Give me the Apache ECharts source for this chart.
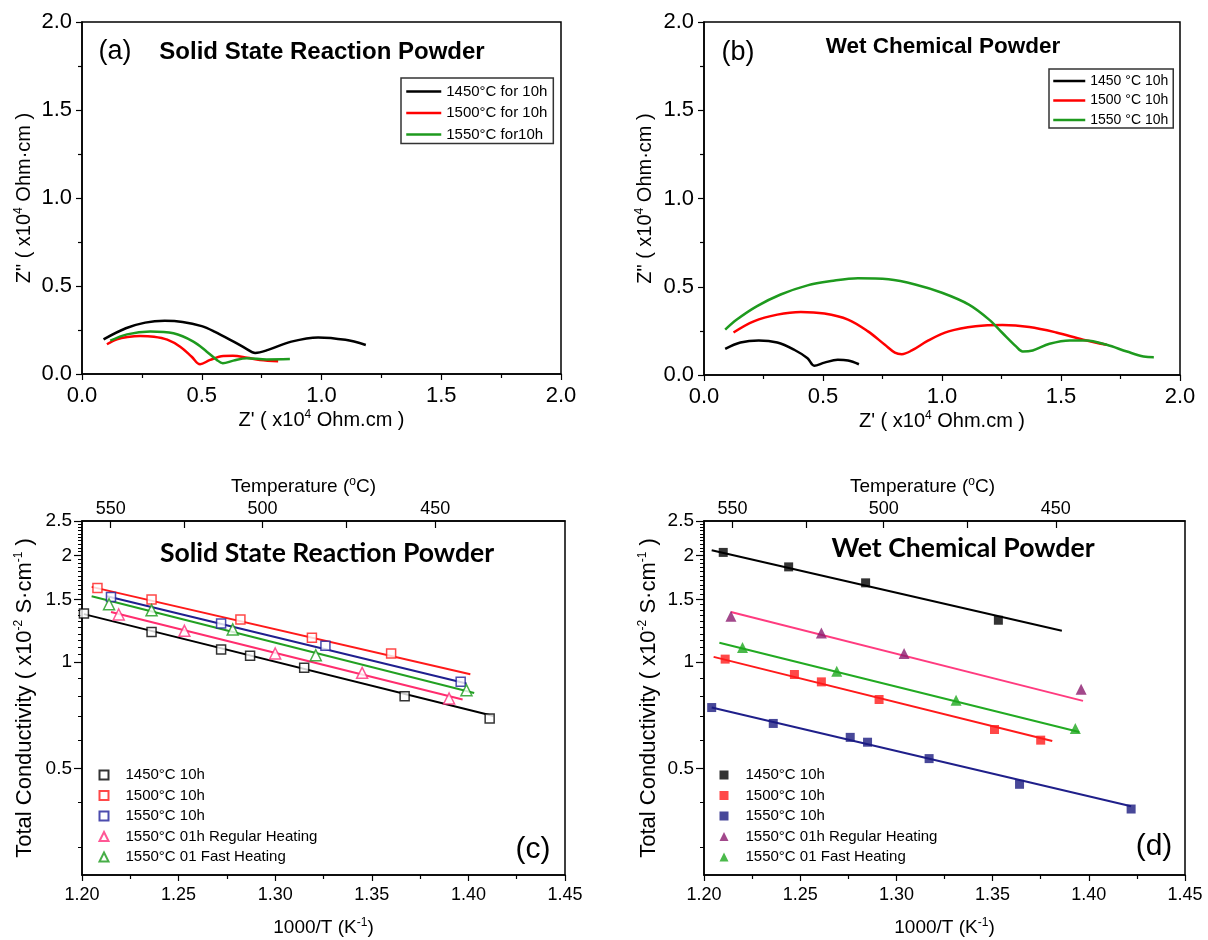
<!DOCTYPE html>
<html>
<head>
<meta charset="utf-8">
<script src="https://cdn.jsdelivr.net/npm/echarts@6/dist/echarts.min.js"></script>
<style>html,body{margin:0;padding:0;background:#fff}#main{width:1208px;height:940px}</style>
</head>
<body>
<div id="main"></div>
<script>
// (a) Nyquist plots, solid state reaction powder  [Z', Z''] in 1e4 Ohm.cm
const zA1450 = [[0.090,0.197],[0.183,0.260],[0.264,0.292],[0.345,0.302],[0.420,0.296],[0.500,0.272],[0.553,0.241],[0.633,0.184],[0.683,0.146],[0.723,0.120],[0.777,0.137],[0.874,0.184],[0.986,0.208],[1.100,0.194],[1.185,0.165]];
const zA1500 = [[0.104,0.169],[0.146,0.197],[0.190,0.210],[0.243,0.216],[0.300,0.212],[0.356,0.195],[0.410,0.155],[0.458,0.098],[0.493,0.055],[0.535,0.080],[0.590,0.102],[0.630,0.103],[0.690,0.092],[0.743,0.080],[0.819,0.072]];
const zA1550 = [[0.118,0.189],[0.188,0.225],[0.285,0.241],[0.382,0.231],[0.465,0.184],[0.521,0.127],[0.563,0.080],[0.588,0.061],[0.632,0.076],[0.688,0.089],[0.771,0.083],[0.868,0.085]];
// (b) Nyquist plots, wet chemical powder
const zB1450 = [[0.089,0.148],[0.153,0.184],[0.230,0.196],[0.308,0.184],[0.379,0.143],[0.435,0.095],[0.463,0.053],[0.506,0.070],[0.562,0.086],[0.605,0.082],[0.651,0.061]];
const zB1500 = [[0.124,0.241],[0.209,0.304],[0.308,0.342],[0.407,0.357],[0.506,0.348],[0.605,0.314],[0.689,0.247],[0.760,0.171],[0.802,0.127],[0.831,0.118],[0.873,0.139],[0.943,0.196],[1.028,0.247],[1.141,0.276],[1.254,0.283],[1.367,0.272],[1.480,0.241],[1.593,0.200],[1.692,0.171]];
const zB1550 = [[0.089,0.257],[0.138,0.314],[0.223,0.390],[0.322,0.456],[0.435,0.508],[0.534,0.532],[0.647,0.548],[0.775,0.542],[0.887,0.513],[1.000,0.466],[1.113,0.399],[1.198,0.314],[1.254,0.238],[1.311,0.162],[1.339,0.133],[1.381,0.139],[1.452,0.177],[1.537,0.196],[1.607,0.196],[1.692,0.171],[1.777,0.133],[1.847,0.105],[1.890,0.101]];

// (c) conductivity, solid state  [1000/T, sigma x1e-2]
const c1450 = [[1.201,1.370],[1.236,1.215],[1.272,1.084],[1.287,1.040],[1.315,0.962],[1.367,0.800],[1.411,0.692]];
const c1500 = [[1.208,1.618],[1.236,1.500],[1.282,1.317],[1.319,1.169],[1.360,1.056]];
const c1550 = [[1.215,1.526],[1.272,1.284],[1.326,1.110],[1.396,0.878]];
const cReg = [[1.219,1.361],[1.253,1.224],[1.300,1.056],[1.345,0.931],[1.390,0.788]];
const cFast = [[1.214,1.455],[1.236,1.400],[1.278,1.235],[1.321,1.044],[1.399,0.832]];
const fitC1450 = [[1.201,1.364],[1.413,0.703]];
const fitC1500 = [[1.205,1.629],[1.401,0.923]];
const fitC1550 = [[1.213,1.533],[1.399,0.869]];
const fitCReg = [[1.215,1.384],[1.397,0.783]];
const fitCFast = [[1.205,1.533],[1.403,0.817]];

// (d) conductivity, wet chemical
const d1450 = [[1.210,2.038],[1.244,1.855],[1.284,1.672],[1.353,1.311]];
const d1500 = [[1.211,1.018],[1.247,0.921],[1.261,0.878],[1.291,0.783],[1.351,0.644],[1.375,0.601]];
const d1550 = [[1.204,0.743],[1.236,0.670],[1.276,0.612],[1.285,0.593],[1.317,0.533],[1.364,0.451],[1.422,0.384]];
const dReg = [[1.214,1.346],[1.261,1.207],[1.304,1.056],[1.396,0.837]];
const dFast = [[1.220,1.098],[1.269,0.941],[1.331,0.779],[1.393,0.648]];
const fitD1450 = [[1.204,2.068],[1.386,1.224]];
const fitD1500 = [[1.205,1.033],[1.381,0.598]];
const fitD1550 = [[1.204,0.743],[1.422,0.391]];
const fitDReg = [[1.214,1.384],[1.397,0.776]];
const fitDFast = [[1.208,1.132],[1.395,0.634]];

const tempLabels = [550, 500, 450];
const tempTicks = [550, 525, 500, 475, 450];
const sigLabels = [0.5, 1, 1.5, 2, 2.5];
const sigMinor = [0.3, 0.4, 0.6, 0.7, 0.8, 0.9, 1.05, 1.1, 1.15, 1.2, 1.25, 1.3, 1.35, 1.4, 1.45,
  1.55, 1.6, 1.65, 1.7, 1.75, 1.8, 1.85, 1.9, 1.95, 2.05, 2.1, 2.15, 2.2, 2.25, 2.3, 2.35, 2.4, 2.45];

const FONT = '"Liberation Sans", Arial, sans-serif';
const TFONT = 'Lato, "Open Sans", sans-serif';
const toInvT = t => 1000 / (t + 273.15);

var chartDom = document.getElementById('main');
var myChart = echarts.init(chartDom);

const sup = { fontSize: 12, lineHeight: 12, verticalAlign: 'top', fontFamily: FONT, color: '#000' };
const axLine = { show: true, lineStyle: { color: '#000', width: 1.5 } };
const axTick = { show: true, length: 6, lineStyle: { color: '#000', width: 1.2 } };
const minTick = { show: true, splitNumber: 2, length: 4, lineStyle: { color: '#000', width: 1.2 } };

const grids = [
  { left: 82, top: 22, width: 479, height: 352 },
  { left: 704, top: 22, width: 476, height: 353 },
  { left: 82, top: 521, width: 483, height: 354 },
  { left: 704, top: 521, width: 481, height: 354 },
].map(g => Object.assign(g, { show: true, borderColor: '#000', borderWidth: 1.5, backgroundColor: 'transparent' }));

function zAxisX(gi) {
  return {
    type: 'value', gridIndex: gi, min: 0, max: 2, interval: 0.5,
    axisLine: axLine, axisTick: axTick, minorTick: minTick, splitLine: { show: false },
    axisLabel: { color: '#000', fontSize: 22, fontFamily: FONT, margin: 11, formatter: v => v.toFixed(1) },
    name: "Z' ( x10{sup|4} Ohm.cm )", nameLocation: 'middle', nameGap: 35,
    nameTextStyle: { color: '#000', fontSize: 20, lineHeight: 22, fontFamily: FONT, rich: { sup } },
  };
}
function zAxisY(gi, gap) {
  return {
    type: 'value', gridIndex: gi, min: 0, max: 2, interval: 0.5,
    axisLine: axLine, axisTick: axTick, minorTick: minTick, splitLine: { show: false },
    axisLabel: { color: '#000', fontSize: 22, fontFamily: FONT, margin: 10, formatter: v => v.toFixed(1) },
    name: 'Z" ( x10{sup|4} Ohm\u00b7cm )', nameLocation: 'middle', nameGap: gap,
    nameTextStyle: { color: '#000', fontSize: 20, lineHeight: 22, fontFamily: FONT, rich: { sup } },
  };
}
function invTAxis(gi) {
  return {
    type: 'value', gridIndex: gi, min: 1.2, max: 1.45, interval: 0.05,
    axisLine: axLine, axisTick: axTick, minorTick: minTick, splitLine: { show: false },
    axisLabel: { color: '#000', fontSize: 18, fontFamily: FONT, margin: 11, formatter: v => v.toFixed(2) },
    name: '1000/T (K{sup|-1})', nameLocation: 'middle', nameGap: 42,
    nameTextStyle: { color: '#000', fontSize: 19, lineHeight: 21, fontFamily: FONT, rich: { sup } },
  };
}
function tempAxis(gi, shift) {
  return {
    type: 'value', gridIndex: gi, position: 'top', min: 1.2, max: 1.45,
    axisLine: axLine,
    axisTick: { show: true, inside: true, length: 7, customValues: tempTicks.map(toInvT), lineStyle: { color: '#000', width: 1.2 } },
    splitLine: { show: false },
    axisLabel: { color: '#000', fontSize: 18, fontFamily: FONT, margin: 3, customValues: tempLabels.map(toInvT),
      formatter: v => String(Math.round(1000 / v - 273.15)) },
    name: 'Temperature ({sup|o}C)', nameLocation: 'middle', nameGap: 24,
    nameTextStyle: { color: '#000', fontSize: 19, lineHeight: 21, fontFamily: FONT, padding: [0, shift, 0, 0], rich: { sup } },
  };
}
function sigAxis(gi, gap) {
  return {
    type: 'log', logBase: 10, gridIndex: gi, min: 0.25, max: 2.5,
    axisLine: axLine,
    axisTick: { show: true, length: 8, customValues: sigLabels, lineStyle: { color: '#000', width: 1.2 } },
    splitLine: { show: false },
    axisLabel: { color: '#000', fontSize: 19, fontFamily: FONT, margin: 10, customValues: sigLabels,
      formatter: v => String(+(+v).toFixed(2)) },
    name: 'Total Conductivity ( x10{sup|-2} S\u00b7cm{sup|-1} )', nameLocation: 'middle', nameGap: gap,
    nameTextStyle: { color: '#000', fontSize: 22, lineHeight: 24, fontFamily: FONT, rich: { sup } },
  };
}
function sigMinorAxis(gi) {
  return {
    type: 'log', logBase: 10, gridIndex: gi, position: 'left', min: 0.25, max: 2.5,
    axisLine: { show: false },
    axisTick: { show: true, length: 4, customValues: sigMinor, lineStyle: { color: '#000', width: 1 } },
    axisLabel: { show: false }, splitLine: { show: false },
  };
}

function nyq(name, data, color, ai) {
  return { name, type: 'line', xAxisIndex: ai, yAxisIndex: ai, data, symbol: 'none',
    smooth: 0.35, lineStyle: { color, width: 2.5 }, itemStyle: { color }, z: 3 };
}
function fit(data, color, xi, yi) {
  return { type: 'line', xAxisIndex: xi, yAxisIndex: yi, data, symbol: 'none', lineStyle: { color, width: 2 }, z: 2, silent: true };
}
function pts(name, data, symbol, color, hollow, xi, yi) {
  const size = symbol === 'triangle' ? 11 : 9;
  return { name, type: 'scatter', xAxisIndex: xi, yAxisIndex: yi, data, symbol, symbolSize: size, symbolKeepAspect: true,
    itemStyle: hollow ? { color: '#fff', borderColor: color, borderWidth: 1.5 } : { color }, z: 4 };
}

const aNames = ['1450\u00b0C for 10h', '1500\u00b0C for 10h', '1550\u00b0C for10h'];
const bNames = ['1450 \u00b0C 10h', '1500 \u00b0C 10h', '1550 \u00b0C 10h'];
const cNames = ['1450\u00b0C 10h', '1500\u00b0C 10h', '1550\u00b0C 10h', '1550\u00b0C 01h Regular Heating', '1550\u00b0C 01 Fast Heating'];
const dNames = cNames.map(n => n + '\u200b');

const GREEN = '#1e9a1e';
const series = [
  nyq(aNames[0], zA1450, '#000', 0), nyq(aNames[1], zA1500, '#ff0000', 0), nyq(aNames[2], zA1550, GREEN, 0),
  nyq(bNames[0], zB1450, '#000', 1), nyq(bNames[1], zB1500, '#ff0000', 1), nyq(bNames[2], zB1550, GREEN, 1),
  fit(fitC1450, '#000', 2, 2), fit(fitC1500, '#ff1a1a', 2, 2), fit(fitC1550, '#1f1f8f', 2, 2),
  fit(fitCReg, '#ff2d6e', 2, 2), fit(fitCFast, '#22a022', 2, 2),
  pts(cNames[0], c1450, 'rect', '#000', true, 2, 2), pts(cNames[1], c1500, 'rect', '#ff1a1a', true, 2, 2),
  pts(cNames[2], c1550, 'rect', '#1f1f9a', true, 2, 2), pts(cNames[3], cReg, 'triangle', '#ff2d7a', true, 2, 2),
  pts(cNames[4], cFast, 'triangle', '#1a9a1a', true, 2, 2),
  fit(fitD1450, '#000', 4, 4), fit(fitD1500, '#ff1a1a', 4, 4), fit(fitD1550, '#1f1f8a', 4, 4),
  fit(fitDReg, '#ff3b7f', 4, 4), fit(fitDFast, '#22aa22', 4, 4),
  pts(dNames[0], d1450, 'rect', '#000', false, 4, 4), pts(dNames[1], d1500, 'rect', '#ff1a1a', false, 4, 4),
  pts(dNames[2], d1550, 'rect', '#1a1a80', false, 4, 4), pts(dNames[3], dReg, 'triangle', '#8b1a6e', false, 4, 4),
  pts(dNames[4], dFast, 'triangle', '#1ea81e', false, 4, 4),
];

const lineLegend = (names, left, top, w, gap, fs, pad) => ({
  data: names, orient: 'vertical', left, top, padding: pad, itemGap: gap, itemWidth: w, itemHeight: 14,
  borderColor: '#333', borderWidth: 1.5, selectedMode: false,
  itemStyle: { opacity: 0, borderWidth: 0 },
  lineStyle: { width: 2.5 },
  textStyle: { color: '#000', fontSize: fs, fontFamily: FONT },
});
const ptLegend = (names, left) => ({
  data: names, orient: 'vertical', left, top: 767.5, padding: 0, itemGap: 5.5, itemWidth: 9, itemHeight: 9,
  selectedMode: false, textStyle: { color: '#000', fontSize: 15, fontFamily: FONT, padding: [0, 0, 0, 12] },
});

function label(text, x, y, font) {
  return { type: 'text', x, y, z: 10,
    style: { text, font, fill: '#000', textAlign: 'center', textVerticalAlign: 'middle', align: 'center', verticalAlign: 'middle' } };
}

var option = {
  backgroundColor: '#fff',
  animation: false,
  grid: grids,
  xAxis: [zAxisX(0), zAxisX(1), invTAxis(2), tempAxis(2, 40), invTAxis(3), tempAxis(3, 44)],
  yAxis: [zAxisY(0, 47), zAxisY(1, 48), sigAxis(2, 45), sigMinorAxis(2), sigAxis(3, 43), sigMinorAxis(3)],
  legend: [
    lineLegend(aNames, 401, 78, 35, 6.5, 15, [6, 6, 1.5, 4]),
    lineLegend(bNames, 1049, 69, 32, 5.5, 14, [5, 5, 1, 3]),
    ptLegend(cNames, 98.5),
    ptLegend(dNames, 719.5),
  ],
  graphic: [
    label('(a)', 115, 52, '27px ' + FONT),
    label('Solid State Reaction Powder', 322, 52, 'bold 24px ' + FONT),
    label('(b)', 738, 53, '27px ' + FONT),
    label('Wet Chemical Powder', 943, 47, 'bold 22.5px ' + FONT),
    label('Solid State Reaction Powder', 327, 553, 'bold 26.6px ' + TFONT),
    label('Wet Chemical Powder', 963, 548, 'bold 26.6px ' + TFONT),
    label('(c)', 533, 850, '30px ' + FONT),
    label('(d)', 1154, 847, '30px ' + FONT),
  ],
  series,
};

option && myChart.setOption(option);
</script>
</body>
</html>
